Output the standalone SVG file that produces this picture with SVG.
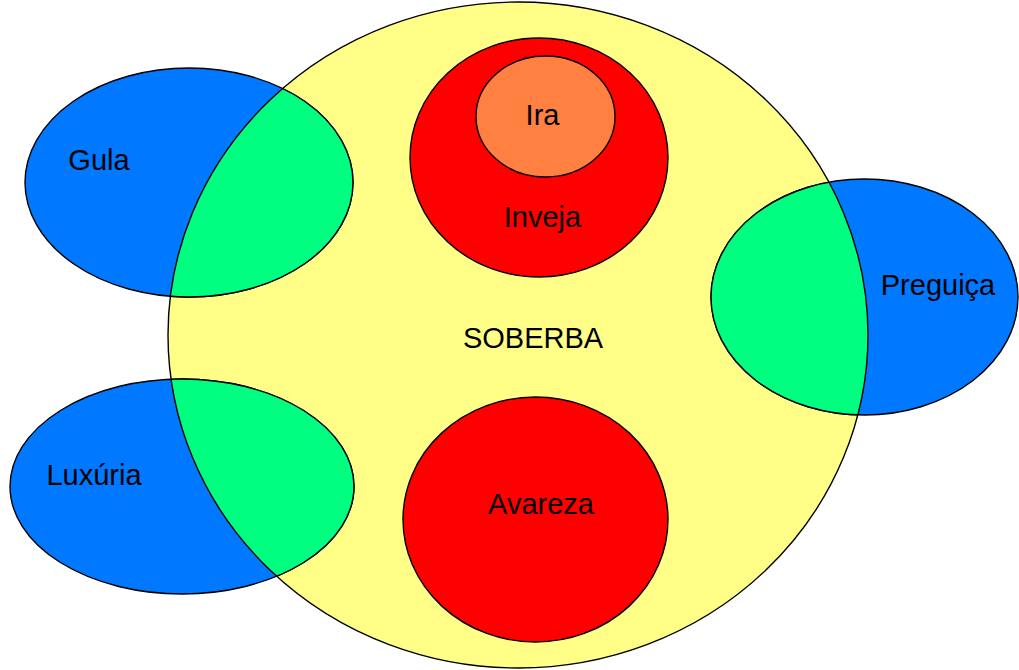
<svg xmlns="http://www.w3.org/2000/svg" width="1019" height="670" viewBox="0 0 1019 670">
<style>
.o{stroke:#000;stroke-width:1.4}
.y{fill:#FFFF88}
.b{fill:#0078FF}
.g{fill:#00FF80}
.r{fill:#FF0000}
.or{fill:#FF8040}
text{font-family:"Liberation Sans",Arial,sans-serif;font-size:29px;fill:#000;text-anchor:middle}
</style>
<defs>
<clipPath id="big"><ellipse cx="518" cy="335" rx="350" ry="333"/></clipPath>
</defs>
<rect width="1019" height="670" fill="#fff"/>
<g id="soberba">
<ellipse class="y" cx="518" cy="335" rx="350" ry="333"/>
</g>
<g id="gula">
<ellipse class="b o" cx="189" cy="182.5" rx="164" ry="114.5"/>
<ellipse class="g o" cx="189" cy="182.5" rx="164" ry="114.5" clip-path="url(#big)"/>
<text x="99" y="170">Gula</text>
</g>
<g id="luxuria">
<ellipse class="b o" cx="182" cy="486.5" rx="172" ry="107.5"/>
<ellipse class="g o" cx="182" cy="486.5" rx="172" ry="107.5" clip-path="url(#big)"/>
<text x="94" y="485">Luxúria</text>
</g>
<g id="preguica">
<ellipse class="b o" cx="864.5" cy="297" rx="153.5" ry="118"/>
<ellipse class="g o" cx="864.5" cy="297" rx="153.5" ry="118" clip-path="url(#big)"/>
<text x="938" y="295">Preguiça</text>
</g>
<g id="soberba-outline">
<ellipse cx="518" cy="335" rx="350" ry="333" fill="none" class="o"/>
<text x="533" y="348">SOBERBA</text>
</g>
<g id="inveja">
<ellipse class="r o" cx="539" cy="157.5" rx="129" ry="119.5"/>
<text x="542.5" y="227">Inveja</text>
</g>
<g id="ira">
<ellipse class="or o" cx="545.5" cy="116.5" rx="69.5" ry="60.5"/>
<text x="542.5" y="125">Ira</text>
</g>
<g id="avareza">
<ellipse class="r o" cx="535.5" cy="519.5" rx="132.5" ry="122.5"/>
<text x="541" y="514">Avareza</text>
</g>
<g id="connectors"/>
</svg>
